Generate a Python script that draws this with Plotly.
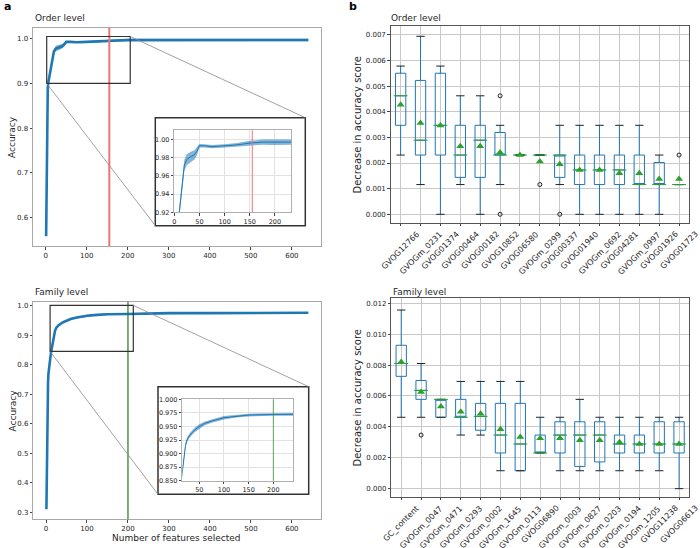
import plotly.graph_objects as go

# ---------------- data: panel a (accuracy vs number of features) ----------------
ORDER_N = [1, 2, 3, 4, 5, 6, 8, 10, 12, 15, 18, 20, 25, 30, 35, 40, 45, 50, 60, 75,
           100, 125, 150, 175, 200, 230, 300, 400, 500, 640]
ORDER_ACC = [0.558, 0.70, 0.80, 0.86, 0.89, 0.90, 0.91, 0.92, 0.935, 0.952, 0.965, 0.972,
             0.978, 0.980, 0.982, 0.983, 0.987, 0.993, 0.993, 0.992, 0.993, 0.994, 0.996,
             0.997, 0.997, 0.997, 0.997, 0.997, 0.997, 0.997]
ORDER_SD = [0.002, 0.004, 0.005, 0.005, 0.005, 0.005, 0.005, 0.005, 0.005, 0.005, 0.006,
            0.006, 0.006, 0.006, 0.005, 0.005, 0.004, 0.002, 0.0018, 0.0018, 0.0018, 0.002,
            0.0025, 0.0028, 0.003, 0.003, 0.0028, 0.0028, 0.0028, 0.0028]
ORDER_SELECTED = 155

FAM_N = [1, 2, 3, 4, 5, 6, 8, 10, 12, 14, 16, 19, 22, 25, 30, 40, 50, 60, 75, 100, 125,
         150, 200, 240, 300, 400, 500, 640]
FAM_ACC = [0.31, 0.50, 0.62, 0.69, 0.74, 0.77, 0.80, 0.825, 0.84, 0.855, 0.87, 0.90, 0.915,
           0.925, 0.933, 0.943, 0.950, 0.955, 0.960, 0.966, 0.969, 0.971, 0.972, 0.974,
           0.975, 0.975, 0.976, 0.976]
FAM_SD = [0.002, 0.004, 0.004, 0.004, 0.004, 0.004, 0.004, 0.004, 0.004, 0.004, 0.004,
          0.004, 0.004, 0.004, 0.004, 0.004, 0.004, 0.0035, 0.003, 0.003, 0.0025, 0.0025,
          0.0025, 0.0025, 0.0025, 0.0025, 0.0025, 0.0025]
FAM_SELECTED = 200

# ---------------- data: panel b (permutation importance boxplots) ----------------
ORDER_FEATURES = ["GVOG12766", "GVOGm_0231", "GVOG01374", "GVOG00464", "GVOG00182",
                  "GVOG10852", "GVOG06580", "GVOGm_0299", "GVOG00337", "GVOG01940",
                  "GVOGm_0692", "GVOG04281", "GVOGm_0997", "GVOG01926", "GVOG01723"]
ORDER_LO = [0.00231, 0.00116, 0.0, 0.00116, 0.0, 0.00116, 0.00231, 0.00231, 0.00116, 0.0,
            0.0, 0.0, 0.0, 0.0, 0.00116]
ORDER_Q1 = [0.00347, 0.00231, 0.00231, 0.00144, 0.00144, 0.00231, 0.00231, 0.00231, 0.00144,
            0.00116, 0.00116, 0.00116, 0.00116, 0.00116, 0.00116]
ORDER_MED = [0.00462, 0.00289, 0.00347, 0.00231, 0.00289, 0.00231, 0.00231, 0.00231, 0.00231,
             0.00173, 0.00173, 0.00173, 0.00116, 0.00116, 0.00116]
ORDER_Q3 = [0.00550, 0.00522, 0.00550, 0.00347, 0.00347, 0.00319, 0.00231, 0.00231, 0.00231,
            0.00231, 0.00231, 0.00231, 0.00231, 0.00202, 0.00116]
ORDER_HI = [0.00578, 0.00694, 0.00578, 0.00462, 0.00462, 0.00347, 0.00231, 0.00231, 0.00347,
            0.00347, 0.00347, 0.00347, 0.00347, 0.00231, 0.00116]
ORDER_MEAN = [0.00427, 0.00356, 0.00346, 0.00265, 0.00265, 0.00241, 0.00231, 0.00206, 0.00195,
              0.00173, 0.00173, 0.00160, 0.00160, 0.00138, 0.00138]
ORDER_FLIER_X = ["GVOG10852", "GVOG10852", "GVOGm_0299", "GVOG00337", "GVOG01723"]
ORDER_FLIER_Y = [0.00462, 0.0, 0.00116, 0.0, 0.00231]

FAM_FEATURES = ["GC_content", "GVOGm_0047", "GVOGm_0471", "GVOGm_0293", "GVOGm_0002",
                "GVOGm_1645", "GVOGm_0113", "GVOG06890", "GVOGm_0003", "GVOGm_0827",
                "GVOGm_0203", "GVOGm_0194", "GVOGm_1205", "GVOG11238", "GVOG06613"]
FAM_LO = [0.00462, 0.00462, 0.00462, 0.00347, 0.00347, 0.00116, 0.00116, 0.00231, 0.00116,
          0.00116, 0.00116, 0.00116, 0.00116, 0.00116, 0.0]
FAM_Q1 = [0.00727, 0.00578, 0.00462, 0.00462, 0.00378, 0.00231, 0.00116, 0.00231, 0.00231,
          0.00144, 0.00173, 0.00231, 0.00231, 0.00231, 0.00231]
FAM_MED = [0.00810, 0.00636, 0.00578, 0.00462, 0.00468, 0.00347, 0.00289, 0.00231, 0.00347,
           0.00347, 0.00347, 0.00289, 0.00289, 0.00289, 0.00289]
FAM_Q3 = [0.00928, 0.00700, 0.00578, 0.00578, 0.00552, 0.00552, 0.00552, 0.00347, 0.00433,
          0.00433, 0.00433, 0.00347, 0.00347, 0.00433, 0.00433]
FAM_HI = [0.01156, 0.00810, 0.00578, 0.00694, 0.00694, 0.00694, 0.00694, 0.00462, 0.00462,
          0.00578, 0.00462, 0.00462, 0.00462, 0.00462, 0.00462]
FAM_MEAN = [0.00820, 0.00626, 0.00531, 0.00497, 0.00485, 0.00384, 0.00335, 0.00326, 0.00326,
            0.00314, 0.00314, 0.00301, 0.00289, 0.00289, 0.00289]
FAM_FLIER_X = ["GVOGm_0047"]
FAM_FLIER_Y = [0.00347]

# ---------------- style ----------------
W, H = 700, 548
FONT = "DejaVu Sans"
BLUE = "#1f77b4"
GREEN = "#2ca02c"
TXT = "#262626"


def px(x):
    return x / W


def py(y):
    return 1 - y / H


fig = go.Figure()

# axis geometry (pixels)
GEOM = {
    1: dict(x=(33, 321), y=(28, 246), xr=[-31, 671], yr=[0.536, 1.024]),
    2: dict(x=(174.3, 291), y=(130.3, 212.3), xr=[0, 232], yr=[0.92, 1.01]),
    3: dict(x=(33.3, 321), y=(301.7, 519.3), xr=[-31, 671], yr=[0.276, 1.0136]),
    4: dict(x=(182.3, 293.3), y=(399.3, 480.7), xr=[15.5, 240.5], yr=[0.85, 1.0]),
    5: dict(x=(390.7, 689), y=(26.3, 222.7), xr=[-0.5, 14.5], yr=[-0.000327, 0.00733]),
    6: dict(x=(391.3, 689), y=(298.3, 496.7), xr=[-0.5, 14.5], yr=[-0.00052, 0.01232]),
}


def to_paper(i, xv, yv):
    g = GEOM[i]
    x0, x1 = px(g["x"][0]), px(g["x"][1])
    y0, y1 = py(g["y"][1]), py(g["y"][0])
    fx = (xv - g["xr"][0]) / (g["xr"][1] - g["xr"][0])
    fy = (yv - g["yr"][0]) / (g["yr"][1] - g["yr"][0])
    return x0 + fx * (x1 - x0), y0 + fy * (y1 - y0)


def band(i, n, acc, sd, main):
    xa = "x" if i == 1 else f"x{i}"
    ya = "y" if i == 1 else f"y{i}"
    up = [a + s for a, s in zip(acc, sd)]
    lo = [a - s for a, s in zip(acc, sd)]
    fig.add_trace(go.Scatter(x=n, y=lo, mode="lines", line=dict(width=0, color=BLUE),
                             xaxis=xa, yaxis=ya, showlegend=False, hoverinfo="skip"))
    fig.add_trace(go.Scatter(x=n, y=up, mode="lines", line=dict(width=0, color=BLUE),
                             fill="tonexty",
                             fillcolor="rgba(31,119,180,0.6)" if main else "rgba(31,119,180,0.55)",
                             xaxis=xa, yaxis=ya, showlegend=False, hoverinfo="skip"))
    fig.add_trace(go.Scatter(x=n, y=acc, mode="lines",
                             line=dict(width=2.6 if main else 1.0, color=BLUE),
                             xaxis=xa, yaxis=ya, showlegend=False, hoverinfo="skip"))


band(1, ORDER_N, ORDER_ACC, ORDER_SD, True)
band(2, ORDER_N, ORDER_ACC, ORDER_SD, False)
band(3, FAM_N, FAM_ACC, FAM_SD, True)
band(4, FAM_N, FAM_ACC, FAM_SD, False)


def boxes(i, feats, lo, q1, med, q3, hi, mean, fx, fy):
    xa, ya = f"x{i}", f"y{i}"
    fig.add_trace(go.Box(x=feats, q1=q1, median=med, q3=q3, lowerfence=lo, upperfence=hi,
                         width=0.52, whiskerwidth=0, boxpoints=False,
                         line=dict(color=BLUE, width=1), fillcolor="rgba(0,0,0,0)",
                         xaxis=xa, yaxis=ya, showlegend=False, hoverinfo="skip"))
    fig.add_trace(go.Scatter(x=feats + feats, y=lo + hi, mode="markers",
                             marker=dict(symbol="line-ew", size=6, color="#222222",
                                         line=dict(color="#222222", width=1)),
                             xaxis=xa, yaxis=ya, showlegend=False, hoverinfo="skip"))
    fig.add_trace(go.Scatter(x=feats, y=med, mode="markers",
                             marker=dict(symbol="line-ew", size=10, color=GREEN,
                                         line=dict(color=GREEN, width=1)),
                             xaxis=xa, yaxis=ya, showlegend=False, hoverinfo="skip"))
    fig.add_trace(go.Scatter(x=feats, y=mean, mode="markers",
                             marker=dict(symbol="triangle-up", size=7, color=GREEN,
                                         line=dict(width=0)),
                             xaxis=xa, yaxis=ya, showlegend=False, hoverinfo="skip"))
    fig.add_trace(go.Scatter(x=fx, y=fy, mode="markers",
                             marker=dict(symbol="circle-open", size=4, color="#222222",
                                         line=dict(color="#222222", width=1)),
                             xaxis=xa, yaxis=ya, showlegend=False, hoverinfo="skip"))


boxes(5, ORDER_FEATURES, ORDER_LO, ORDER_Q1, ORDER_MED, ORDER_Q3, ORDER_HI, ORDER_MEAN,
      ORDER_FLIER_X, ORDER_FLIER_Y)
boxes(6, FAM_FEATURES, FAM_LO, FAM_Q1, FAM_MED, FAM_Q3, FAM_HI, FAM_MEAN,
      FAM_FLIER_X, FAM_FLIER_Y)

# ---------------- axes ----------------
layout = {}
tick7 = dict(size=7, color=TXT, family=FONT)
for i, g in GEOM.items():
    xk = "xaxis" if i == 1 else f"xaxis{i}"
    yk = "yaxis" if i == 1 else f"yaxis{i}"
    xa = "x" if i == 1 else f"x{i}"
    ya = "y" if i == 1 else f"y{i}"
    inset = i in (2, 4)
    boxp = i in (5, 6)
    frame = "#555555" if boxp else ("#a8a8a8" if not inset else "#b0b0b0")
    common = dict(showline=True, mirror=True, linecolor=frame, linewidth=1,
                  zeroline=False, ticks="outside", ticklen=2.5, tickcolor="#444",
                  tickwidth=0.8, tickfont=tick7, automargin=False,
                  showgrid=inset or boxp,
                  gridcolor="#e2e2e2" if inset else "#c8c8c8", gridwidth=0.8)
    layout[xk] = dict(domain=[px(g["x"][0]), px(g["x"][1])], range=g["xr"], anchor=ya,
                      **common)
    layout[yk] = dict(domain=[py(g["y"][1]), py(g["y"][0])], range=g["yr"], anchor=xa,
                      **common)

layout["xaxis"].update(tickvals=[0, 100, 200, 300, 400, 500, 600])
layout["xaxis3"].update(tickvals=[0, 100, 200, 300, 400, 500, 600])
layout["yaxis"].update(tickvals=[0.6, 0.7, 0.8, 0.9, 1.0], tickformat=".1f")
layout["yaxis3"].update(tickvals=[0.3, 0.4, 0.5, 0.6, 0.7, 0.8, 0.9, 1.0], tickformat=".1f")
layout["xaxis2"].update(tickvals=[0, 50, 100, 150, 200], tickfont=dict(size=6.5, color=TXT, family=FONT))
layout["yaxis2"].update(tickvals=[0.92, 0.94, 0.96, 0.98, 1.00], tickformat=".2f",
                        tickfont=dict(size=6.5, color=TXT, family=FONT))
layout["xaxis4"].update(tickvals=[50, 100, 150, 200], tickfont=dict(size=6.5, color=TXT, family=FONT))
layout["yaxis4"].update(tickvals=[0.85, 0.875, 0.9, 0.925, 0.95, 0.975, 1.0], tickformat=".3f",
                        tickfont=dict(size=6.5, color=TXT, family=FONT))
layout["xaxis5"].update(type="category", showticklabels=False,
                        categoryorder="array", categoryarray=ORDER_FEATURES)
layout["xaxis6"].update(type="category", showticklabels=False,
                        categoryorder="array", categoryarray=FAM_FEATURES)
layout["yaxis5"].update(tickvals=[0, 0.001, 0.002, 0.003, 0.004, 0.005, 0.006, 0.007],
                        tickformat=".3f")
layout["yaxis6"].update(tickvals=[0, 0.002, 0.004, 0.006, 0.008, 0.010, 0.012],
                        tickformat=".3f")

# ---------------- shapes ----------------
shapes = []
shapes.append(dict(type="line", xref="x", yref="y domain", x0=ORDER_SELECTED, x1=ORDER_SELECTED,
                   y0=0, y1=1, line=dict(color="#f07474", width=2)))
shapes.append(dict(type="line", xref="x2", yref="y2 domain", x0=ORDER_SELECTED, x1=ORDER_SELECTED,
                   y0=0, y1=1, line=dict(color="#f07474", width=1)))
shapes.append(dict(type="line", xref="x3", yref="y3 domain", x0=FAM_SELECTED, x1=FAM_SELECTED,
                   y0=0, y1=1, line=dict(color="#1e7a1e", width=1.2)))
shapes.append(dict(type="line", xref="x4", yref="y4 domain", x0=FAM_SELECTED, x1=FAM_SELECTED,
                   y0=0, y1=1, line=dict(color="#3a9a3a", width=0.8)))

ZOOMS = [
    (1, (2.4, 206, 0.9, 1.005), (155.3, 117.7, 305.3, 225.7)),
    (3, (10, 213, 0.845, 1.001), (158, 386.7, 308.7, 494.3)),
]
for i, (rx0, rx1, ry0, ry1), (fl, ft, fr, fb) in ZOOMS:
    xr = "x" if i == 1 else f"x{i}"
    yr = "y" if i == 1 else f"y{i}"
    shapes.append(dict(type="rect", xref="paper", yref="paper", layer="below",
                       x0=px(fl), x1=px(fr), y0=py(fb), y1=py(ft),
                       fillcolor="white", line=dict(color="#333333", width=1.5)))
    shapes.append(dict(type="rect", xref=xr, yref=yr, x0=rx0, x1=rx1, y0=ry0, y1=ry1,
                       line=dict(color="#333333", width=1.2)))
    tx, ty = to_paper(i, rx1, ry1)
    shapes.append(dict(type="line", xref="paper", yref="paper", x0=tx, y0=ty,
                       x1=px(fr), y1=py(ft), line=dict(color="#8a8a8a", width=0.8)))
    bx, by = to_paper(i, rx0, ry0)
    shapes.append(dict(type="line", xref="paper", yref="paper", x0=bx, y0=by,
                       x1=px(fl), y1=py(fb), line=dict(color="#8a8a8a", width=0.8)))

# ---------------- annotations ----------------
ann = []


def text(t, x, y, size, xanchor="left", yanchor="middle", angle=0, bold=False):
    ann.append(dict(text=f"<b>{t}</b>" if bold else t, x=px(x), y=py(y), xref="paper",
                    yref="paper", showarrow=False, xanchor=xanchor, yanchor=yanchor,
                    textangle=angle, font=dict(size=size, color=TXT if not bold else "black",
                                                family=FONT)))


text("a", 2, 6, 11, bold=True)
text("b", 347, 6, 11, bold=True)
text("Order level", 33, 18, 9)
text("Family level", 33, 292, 9)
text("Accuracy", 12, 137, 9, xanchor="center", angle=-90)
text("Accuracy", 12, 410.5, 9, xanchor="center", angle=-90)
text("Number of features selected", 177, 537.5, 9, xanchor="center")
text("Order level", 389.5, 18.5, 9)
text("Family level", 390.5, 292.5, 9)
text("Decrease in accuracy score", 357, 124.5, 10, xanchor="center", angle=-90)
text("Decrease in accuracy score", 357, 397.5, 10, xanchor="center", angle=-90)

# rotated category labels, centred under their ticks (matplotlib style)
for xref, feats, top in (("x5", ORDER_FEATURES, 227.5), ("x6", FAM_FEATURES, 501.5)):
    for f in feats:
        ann.append(dict(text=f, x=f, xref=xref, y=py(top), yref="paper", showarrow=False,
                        xanchor="center", yanchor="top", textangle=-45,
                        font=dict(size=8, color=TXT, family=FONT)))

fig.update_layout(width=W, height=H, autosize=False,
                  margin=dict(l=0, r=0, t=0, b=0, pad=0, autoexpand=False),
                  paper_bgcolor="white", plot_bgcolor="rgba(0,0,0,0)",
                  font=dict(family=FONT, color=TXT), showlegend=False,
                  shapes=shapes, annotations=ann, **layout)

fig.write_html("out.html", config={"displayModeBar": False},
               post_script="document.body.style.margin='0px';"
                           "document.body.style.padding='0px';"
                           "document.body.style.overflow='hidden';")
